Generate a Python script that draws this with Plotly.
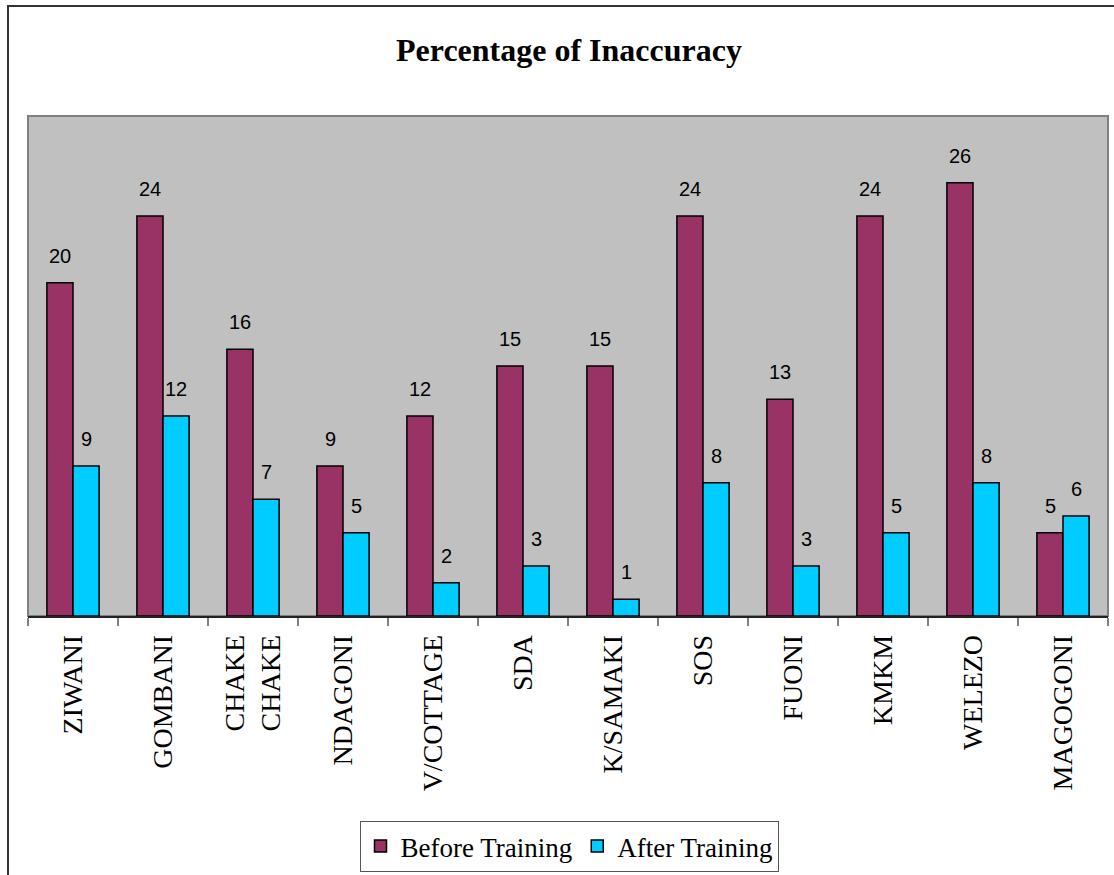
import plotly.graph_objects as go

# Sites and inaccuracy percentages
sites = ["ZIWANI", "GOMBANI", "CHAKE<br>CHAKE", "NDAGONI", "V/COTTAGE", "SDA",
         "K/SAMAKI", "SOS", "FUONI", "KMKM", "WELEZO", "MAGOGONI"]
before_training = [20, 24, 16, 9, 12, 15, 15, 24, 13, 24, 26, 5]
after_training = [9, 12, 7, 5, 2, 3, 1, 8, 3, 5, 8, 6]

W, H = 1114, 875
L, R, T, B = 28, 1108, 116, 616  # plot area in pixels


def px(x):
    return (x - L) / (R - L)


def py(y):
    return (B - y) / (B - T)


serif = "Liberation Serif, Times New Roman, serif"
sans = "Liberation Sans, Arial, sans-serif"

fig = go.Figure()
fig.add_trace(go.Bar(
    x=sites, y=before_training, name="Before Training",
    marker=dict(color="#993366", line=dict(color="black", width=1.5)),
))
fig.add_trace(go.Bar(
    x=sites, y=after_training, name="After Training",
    marker=dict(color="#00CCFF", line=dict(color="black", width=1.5)),
))

# Value labels above each bar
annotations = []
for s, b, a in zip(sites, before_training, after_training):
    for val, shift in ((b, -13), (a, 13)):
        annotations.append(dict(
            x=s, y=val, xref="x", yref="y", text=str(val), showarrow=False,
            xshift=shift, yshift=14, yanchor="bottom",
            font=dict(family=sans, size=20, color="black"),
        ))

annotations.append(dict(
    x=px(569), y=py(50), xref="paper", yref="paper",
    text="<b>Percentage of Inaccuracy</b>", showarrow=False,
    xanchor="center", yanchor="middle",
    font=dict(family=serif, size=32, color="black"),
))

shapes = [
    # plot-area border
    dict(type="rect", xref="paper", yref="paper", x0=0, y0=0, x1=1, y1=1,
         line=dict(color="#808080", width=2), layer="below"),
    # outer frame (left and top edges)
    dict(type="path", xref="paper", yref="paper",
         path=f"M {px(8)} {py(880)} L {px(8)} {py(6)} L {px(1120)} {py(6)}",
         line=dict(color="#333333", width=2)),
]

fig.update_layout(
    width=W, height=H,
    margin=dict(l=L, r=W - R, t=T, b=H - B, pad=0, autoexpand=False),
    paper_bgcolor="white", plot_bgcolor="#C0C0C0",
    barmode="group", bargap=0.42, bargroupgap=0,
    showlegend=True,
    legend=dict(
        orientation="h", x=px(569), xanchor="center", y=py(821), yanchor="top",
        bgcolor="white", bordercolor="#555555", borderwidth=1,
        font=dict(family=serif, size=27, color="black"),
        itemwidth=30, traceorder="normal",
    ),
    annotations=annotations,
    shapes=shapes,
    xaxis=dict(
        type="category", tickangle=-90, ticks="outside", tickson="boundaries",
        ticklen=8, tickcolor="#808080", tickwidth=2,
        showline=True, linecolor="#222222", linewidth=1.5,
        showgrid=False, ticklabelstandoff=6, automargin=False,
        tickfont=dict(family=serif, size=28, color="black"),
    ),
    yaxis=dict(range=[0, 30], showticklabels=False, showgrid=False,
               zeroline=False, ticks=""),
)

fig.write_html("out.html")
